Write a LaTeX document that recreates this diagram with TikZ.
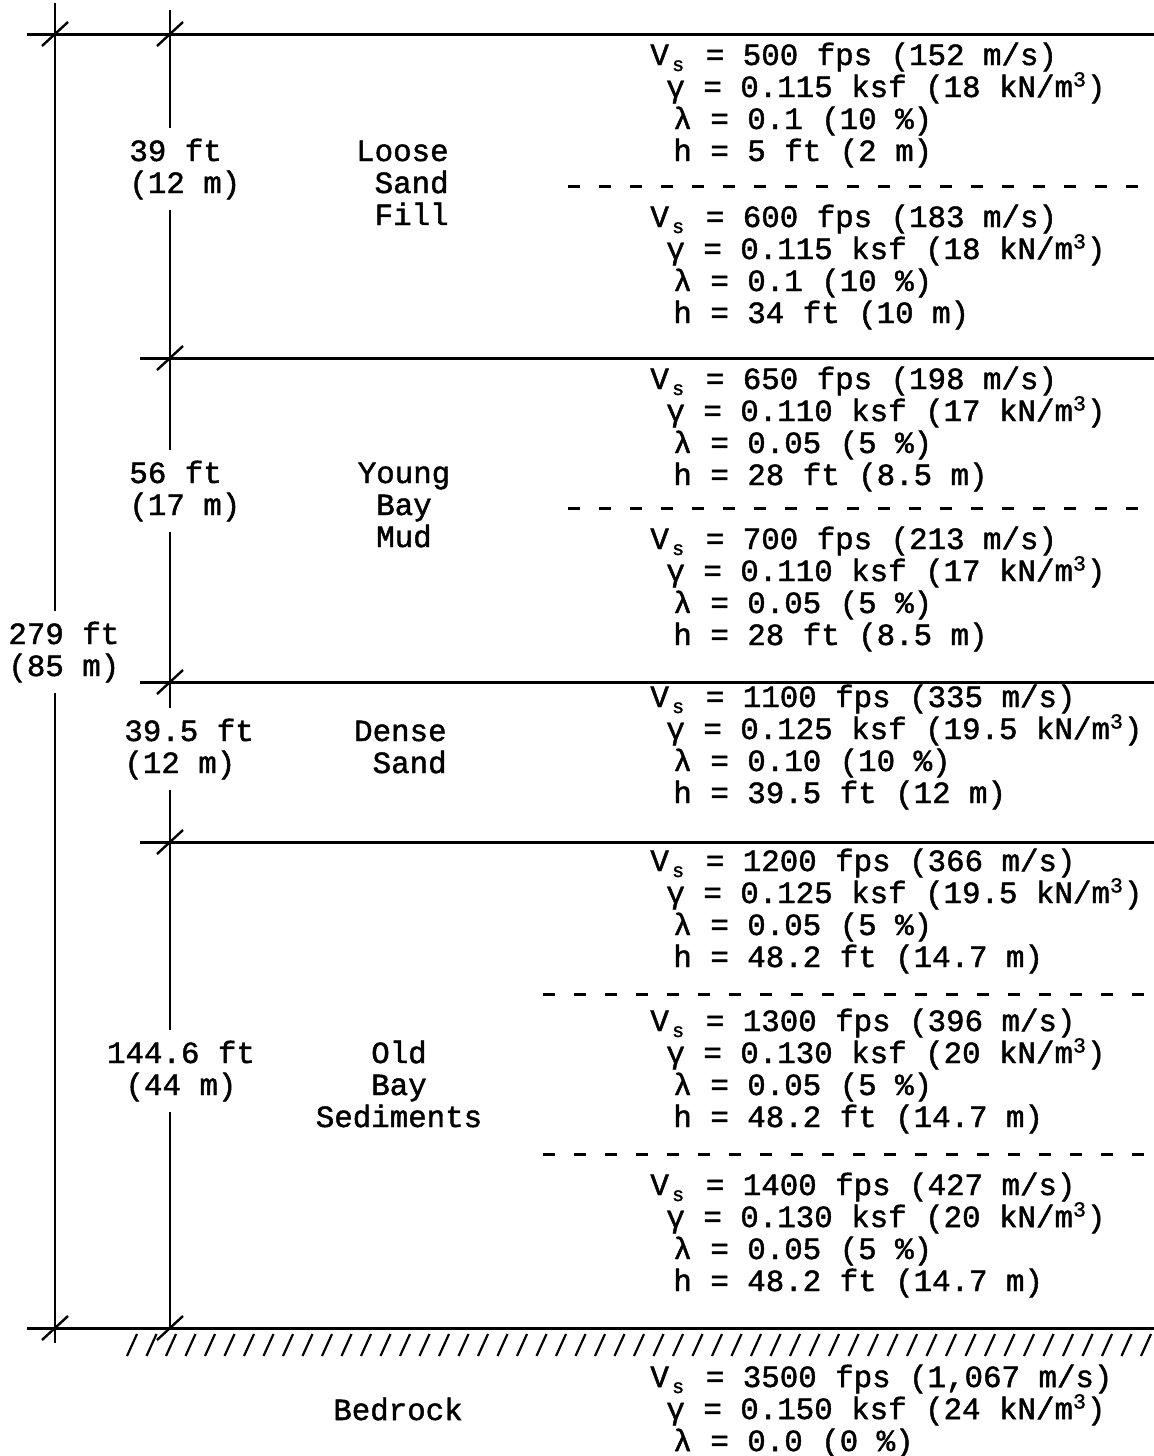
\documentclass[tikz,border=0pt]{standalone}
\usepackage{fontspec}
\setmonofont{Liberation Mono}[FakeBold=1.5]
\newcommand{\Vs}{V\makebox[0.6em][c]{\raisebox{-3pt}{\fontsize{10pt}{10pt}\selectfont s}}}
\newcommand{\cub}{\textsuperscript{3}}
\newcommand{\gi}{\hspace*{8pt}}
\newcommand{\li}{\hspace*{11.5pt}}
\tikzset{
    %Define line styles
    layer/.style={line width=1.5pt},
    sublayer/.style={line width=1.5pt, dash pattern=on 6pt off 9.5pt},
    dimline/.style={line width=1pt},
    tick/.style={line width=1.2pt},
    hatch/.style={line width=1.1pt},
    %Define text styles (anchored at the baseline of the last line)
    props/.style={
           anchor=base west,
           align=left,
           inner sep=0pt,
           font=\ttfamily\fontsize{15.4pt}{16pt}\selectfont},
    soil/.style={
           anchor=base,
           align=center,
           inner sep=0pt,
           font=\ttfamily\fontsize{15.4pt}{16pt}\selectfont},
    dimlabel/.style={
           anchor=base west,
           align=left,
           inner xsep=0pt,
           inner ysep=5pt,
           font=\ttfamily\fontsize{15.4pt}{16pt}\selectfont}
}
\begin{document}
\begin{tikzpicture}[x=0.5pt,y=-0.5pt]
\useasboundingbox (0,0) rectangle (1154,1456);

 %layer thicknesses
\node[dimlabel] (d0) at (8,676) {279 ft\\(85 m)};
\node[dimlabel] (d1) at (129,193) {39 ft\\(12 m)};
\node[dimlabel] (d2) at (129,515) {56 ft\\(17 m)};
\node[dimlabel] (d3) at (124,773) {39.5 ft\\(12 m)};
\node[dimlabel, anchor=base, align=center] (d4) at (181,1095) {144.6 ft\\(44 m)};

 %soil names
\node[soil, anchor=base east, align=right] (s1) at (449,225) {Loose\\Sand\\Fill};
\node[soil] (s2) at (404,547) {Young\\Bay\\Mud};
\node[soil, anchor=base east, align=right] (s3) at (447,773) {Dense\\Sand};
\node[soil] (s4) at (399,1127) {Old\\Bay\\Sediments};
\node[soil] (s5) at (398,1420) {Bedrock};

 %soil properties
\node[props] (p1) at (650,161) {\Vs{} = 500 fps (152 m/s)\\\gi γ = 0.115 ksf (18 kN/m\cub)\\\li λ = 0.1 (10 \%)\\\li h = 5 ft (2 m)};
\node[props] (p2) at (650,323) {\Vs{} = 600 fps (183 m/s)\\\gi γ = 0.115 ksf (18 kN/m\cub)\\\li λ = 0.1 (10 \%)\\\li h = 34 ft (10 m)};
\node[props] (p3) at (650,485) {\Vs{} = 650 fps (198 m/s)\\\gi γ = 0.110 ksf (17 kN/m\cub)\\\li λ = 0.05 (5 \%)\\\li h = 28 ft (8.5 m)};
\node[props] (p4) at (650,645) {\Vs{} = 700 fps (213 m/s)\\\gi γ = 0.110 ksf (17 kN/m\cub)\\\li λ = 0.05 (5 \%)\\\li h = 28 ft (8.5 m)};
\node[props] (p5) at (650,803) {\Vs{} = 1100 fps (335 m/s)\\\gi γ = 0.125 ksf (19.5 kN/m\cub)\\\li λ = 0.10 (10 \%)\\\li h = 39.5 ft (12 m)};
\node[props] (p6) at (650,967) {\Vs{} = 1200 fps (366 m/s)\\\gi γ = 0.125 ksf (19.5 kN/m\cub)\\\li λ = 0.05 (5 \%)\\\li h = 48.2 ft (14.7 m)};
\node[props] (p7) at (650,1127) {\Vs{} = 1300 fps (396 m/s)\\\gi γ = 0.130 ksf (20 kN/m\cub)\\\li λ = 0.05 (5 \%)\\\li h = 48.2 ft (14.7 m)};
\node[props] (p8) at (650,1291) {\Vs{} = 1400 fps (427 m/s)\\\gi γ = 0.130 ksf (20 kN/m\cub)\\\li λ = 0.05 (5 \%)\\\li h = 48.2 ft (14.7 m)};
\node[props] (p9) at (650,1451) {\Vs{} = 3500 fps (1,067 m/s)\\\gi γ = 0.150 ksf (24 kN/m\cub)\\\li λ = 0.0 (0 \%)};

 %dimension lines
\coordinate (topA) at (55,3);
\coordinate (botA) at (55,1343);
\coordinate (topB) at (170,10);
\coordinate (botB) at (170,1328);
\draw[dimline] (topA) -- (topA |- d0.north) (topA |- d0.south) -- (botA);
\draw[dimline] (topB) -- (topB |- d1.north) (topB |- d1.south) -- (topB |- d2.north)
    (topB |- d2.south) -- (topB |- d3.north) (topB |- d3.south) -- (topB |- d4.north)
    (topB |- d4.south) -- (botB);

 %layer boundaries
\draw[layer] (27,34) -- (1154,34);
\foreach \y in {358,682,842}
    \draw[layer] (140,\y) -- (1154,\y);
\draw[layer] (27,1328) -- (1154,1328);
\foreach \x/\y in {568/186,568/508,543/994,543/1154}
    \draw[sublayer] (\x,\y) -- (1154,\y);
\foreach \x/\y in {55/34,170/34,170/358,170/682,170/842,55/1328,170/1328}
    \draw[tick] (\x,\y) ++(-13,12) -- ++(26,-24);

 %bedrock
\foreach \i in {0,...,52}
    \draw[hatch] (127+19.5*\i,1356) -- ++(10,-22);

\end{tikzpicture}
\end{document}
